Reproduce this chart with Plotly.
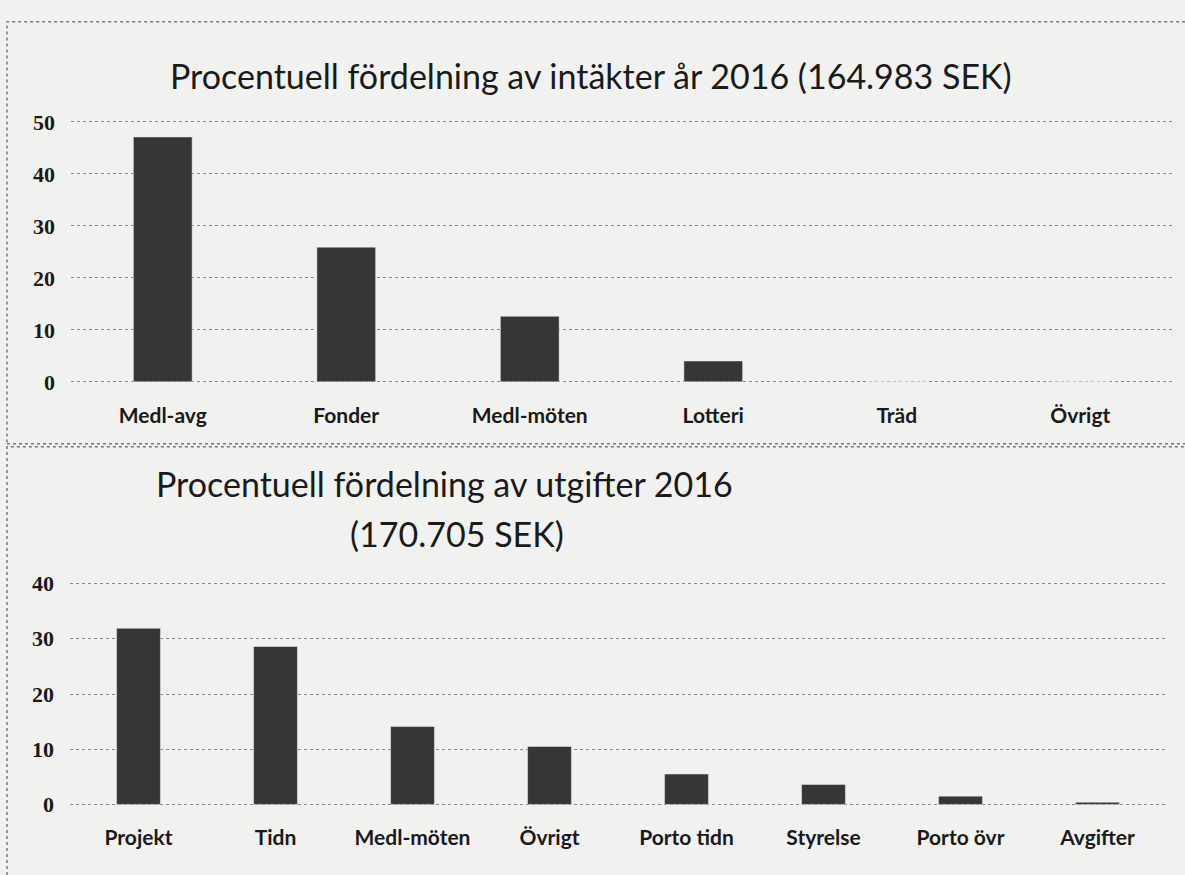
import plotly.graph_objects as go

W, H = 1185, 875

# Top chart: income distribution (%)
inc_categories = ["Medl-avg", "Fonder", "Medl-möten", "Lotteri", "Träd", "Övrigt"]
inc_values = [47.1, 25.9, 12.6, 4.0, 0, 0]
inc_title = "Procentuell fördelning av intäkter år 2016 (164.983 SEK)"
inc_yticks = [0, 10, 20, 30, 40, 50]

# Bottom chart: expense distribution (%)
exp_categories = ["Projekt", "Tidn", "Medl-möten", "Övrigt", "Porto tidn",
                  "Styrelse", "Porto övr", "Avgifter"]
exp_values = [31.9, 28.6, 14.1, 10.5, 5.5, 3.6, 1.5, 0.4]
exp_title_lines = ["Procentuell fördelning av utgifter 2016", "(170.705 SEK)"]
exp_yticks = [0, 10, 20, 30, 40]

BAR = "#363636"
GRID = "#8a8a8a"
BG = "#f1f1f0"
TICKFONT_X = dict(family="Lato, Open Sans, sans-serif", size=21, color="#1a1a1a",
                  weight="bold")
TICKFONT_Y = dict(family="Liberation Serif, DejaVu Serif, serif", size=22,
                  color="#1a1a1a", weight="bold")
TITLEFONT = dict(family="Lato, Open Sans, sans-serif", size=34, color="#1a1a1a")


def px_x(p):
    return p / W


def px_y(p):
    return 1 - p / H


def y_axis_layout(p_zero, p_top, top_value, pad_px=2.5):
    """Domain/range so value 0 sits at pixel p_zero and top_value at p_top,
    with a small pad so the edge gridlines are still drawn."""
    scale = (p_zero - p_top) / top_value
    pad = pad_px / scale
    return dict(domain=[px_y(p_zero + pad_px), px_y(p_top - pad_px)],
                range=[-pad, top_value + pad])


fig = go.Figure()
fig.add_trace(go.Bar(x=inc_categories, y=inc_values, marker_color=BAR,
                     xaxis="x", yaxis="y", showlegend=False))
fig.add_trace(go.Bar(x=exp_categories, y=exp_values, marker_color=BAR,
                     xaxis="x2", yaxis="y2", showlegend=False))

common_y = dict(showgrid=True, gridcolor=GRID, griddash="dot", gridwidth=1,
                zeroline=False, showline=False, ticks="", tickfont=TICKFONT_Y,
                ticklabelstandoff=15, fixedrange=True)
common_x = dict(showgrid=False, zeroline=False, showline=False, ticks="",
                tickfont=TICKFONT_X, fixedrange=True)

fig.update_layout(
    width=W, height=H, autosize=False,
    margin=dict(l=0, r=0, t=0, b=0),
    paper_bgcolor=BG, plot_bgcolor=BG,
    bargap=0.68,
    xaxis=dict(domain=[px_x(71), px_x(1172)], anchor="y",
               ticklabelstandoff=17, **common_x),
    yaxis=dict(anchor="x", tickvals=inc_yticks,
               **y_axis_layout(380.5, 114.5, inc_yticks[-1]), **common_y),
    xaxis2=dict(domain=[px_x(70), px_x(1166)], anchor="y2",
                ticklabelstandoff=16, **common_x),
    yaxis2=dict(anchor="x2", tickvals=exp_yticks,
                **y_axis_layout(813, 587, exp_yticks[-1]), **common_y),
    annotations=[
        dict(text=inc_title, x=px_x(591), y=px_y(67), xref="paper", yref="paper",
             showarrow=False, font=TITLEFONT, xanchor="center", yanchor="middle"),
        dict(text=exp_title_lines[0], x=px_x(444), y=px_y(485), xref="paper",
             yref="paper", showarrow=False, font=TITLEFONT, xanchor="center",
             yanchor="middle"),
        dict(text=exp_title_lines[1], x=px_x(457), y=px_y(536), xref="paper",
             yref="paper", showarrow=False, font=TITLEFONT, xanchor="center",
             yanchor="middle"),
    ],
    shapes=[
        dict(type="rect", xref="paper", yref="paper",
             x0=px_x(7), x1=px_x(1195), y0=px_y(444), y1=px_y(12),
             line=dict(color="#7a7a7a", width=1.5, dash="dot")),
        dict(type="rect", xref="paper", yref="paper",
             x0=px_x(7), x1=px_x(1195), y0=px_y(890), y1=px_y(447),
             line=dict(color="#7a7a7a", width=1.5, dash="dot")),
    ],
)

fig.write_html(
    "out.html",
    config={"responsive": False, "displayModeBar": False},
    post_script="document.body.style.margin='0';document.body.style.overflow='hidden';",
)
